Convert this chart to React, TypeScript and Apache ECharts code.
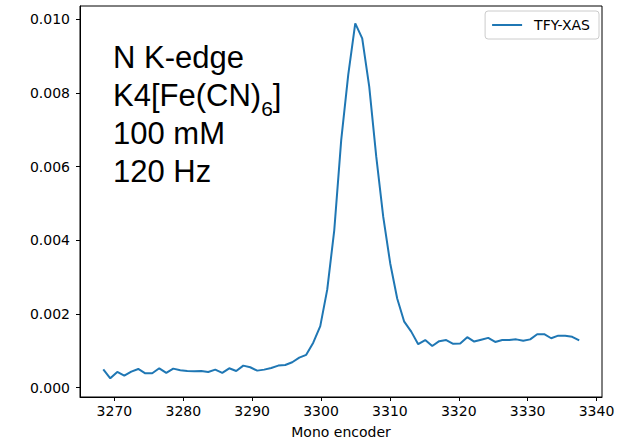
import React, { useEffect, useRef } from "react";
import * as echarts from "echarts";

const xValues = [
  3268.38, 3269.4, 3270.41, 3271.43, 3272.45, 3273.46, 3274.48, 3275.49, 3276.51, 3277.53,
  3278.54, 3279.56, 3280.58, 3281.59, 3282.61, 3283.62, 3284.64, 3285.66, 3286.67, 3287.69,
  3288.71, 3289.72, 3290.74, 3291.75, 3292.77, 3293.79, 3294.8, 3295.82, 3296.84, 3297.85,
  3298.87, 3299.89, 3300.9, 3301.92, 3302.93, 3303.95, 3304.97, 3305.98, 3307.0, 3308.02,
  3309.03, 3310.05, 3311.06, 3312.08, 3313.1, 3314.11, 3315.13, 3316.15, 3317.16, 3318.18,
  3319.19, 3320.21, 3321.23, 3322.24, 3323.26, 3324.28, 3325.29, 3326.31, 3327.32, 3328.34,
  3329.36, 3330.37, 3331.39, 3332.41, 3333.42, 3334.44, 3335.45, 3336.47, 3337.49,
];

const yValues = [
  0.000497, 0.000253, 0.000425, 0.000325, 0.000434, 0.000506, 0.000389, 0.000389, 0.000524, 0.000398,
  0.000515, 0.00047, 0.000452, 0.000443, 0.000452, 0.000425, 0.000488, 0.000398, 0.000524, 0.000452,
  0.000597, 0.000552, 0.000461, 0.000488, 0.000534, 0.000597, 0.000615, 0.000688, 0.000814, 0.00089,
  0.00122, 0.00167, 0.00266, 0.00427, 0.00672, 0.00849, 0.00989, 0.00948, 0.00817, 0.00627,
  0.00464, 0.00337, 0.00242, 0.00179, 0.00152, 0.00118, 0.00129, 0.00113, 0.00126, 0.00129,
  0.00119, 0.0012, 0.00137, 0.00125, 0.0013, 0.00135, 0.00124, 0.00129, 0.00129, 0.00131,
  0.00127, 0.00131, 0.00145, 0.00145, 0.00134, 0.00141, 0.00141, 0.00138, 0.00128,
];

const xTicks = [3270, 3280, 3290, 3300, 3310, 3320, 3330, 3340];
const yTicks = [0, 0.002, 0.004, 0.006, 0.008, 0.01];

const seriesName = "TFY-XAS";
const xAxisTitle = "Mono encoder";
const line1 = "N K-edge";
const line2Main = "K4[Fe(CN)";
const line2Sub = "6";
const line2Tail = "]";
const line3 = "100 mM";
const line4 = "120 Hz";

const ANNO_FONT = "Liberation Sans";

function measure(text: string, font: string): number {
  const c = document.createElement("canvas").getContext("2d");
  if (!c) return text.length * 16;
  c.font = font;
  return c.measureText(text).width;
}

export default function App() {
  const ref = useRef<HTMLDivElement>(null);

  useEffect(() => {
    if (!ref.current) return;
    const chart = echarts.init(ref.current, undefined, { renderer: "svg" });

    const data = xValues.map((x, i) => [x, yValues[i]]);
    const ax = 113;
    const mainSize = 31;
    const subSize = 21;
    const mainW = measure(line2Main, `${mainSize}px "${ANNO_FONT}"`);
    const subW = measure(line2Sub, `${subSize}px "${ANNO_FONT}"`);

    const textStyleBase = {
      fontFamily: ANNO_FONT,
      fontSize: mainSize,
      fill: "#000",
      align: "left",
      verticalAlign: "middle",
    };

    chart.setOption({
      animation: false,
      backgroundColor: "#ffffff",
      grid: {
        left: 80,
        right: 24,
        top: 6,
        bottom: 43,
        show: true,
        containLabel: false,
        outerBoundsMode: "none",
        borderColor: "#000",
        borderWidth: 1,
        backgroundColor: "transparent",
      },
      legend: {
        show: true,
        top: 11,
        right: 27,
        orient: "vertical",
        padding: [7, 9, 7, 6],
        itemWidth: 30,
        itemHeight: 14,
        itemStyle: { opacity: 0 },
        borderColor: "#cccccc",
        borderWidth: 1,
        borderRadius: 3,
        backgroundColor: "rgba(255,255,255,0.8)",
        textStyle: {
          fontFamily: "DejaVu Sans",
          fontSize: 14,
          color: "#000",
          padding: [0, 0, 0, 7],
        },
        data: [seriesName],
      },
      xAxis: {
        type: "value",
        min: 3265,
        max: 3340.8,
        name: xAxisTitle,
        nameLocation: "middle",
        nameGap: 28,
        nameTextStyle: { fontFamily: "DejaVu Sans", fontSize: 14, color: "#000" },
        axisLine: { show: true, onZero: false, lineStyle: { color: "#000", width: 1 } },
        axisTick: {
          show: true,
          inside: false,
          length: 4,
          customValues: xTicks,
          lineStyle: { color: "#000", width: 1 },
        },
        axisLabel: {
          show: true,
          margin: 7,
          customValues: xTicks,
          fontFamily: "DejaVu Sans",
          fontSize: 14,
          color: "#000",
          formatter: (v: number) => String(Math.round(v)),
        },
        splitLine: { show: false },
      },
      yAxis: {
        type: "value",
        min: -0.000255,
        max: 0.01036,
        axisLine: { show: true, onZero: false, lineStyle: { color: "#000", width: 1 } },
        axisTick: {
          show: true,
          inside: false,
          length: 4,
          customValues: yTicks,
          lineStyle: { color: "#000", width: 1 },
        },
        axisLabel: {
          show: true,
          margin: 10,
          customValues: yTicks,
          fontFamily: "DejaVu Sans",
          fontSize: 14,
          color: "#000",
          formatter: (v: number) => v.toFixed(3),
        },
        splitLine: { show: false },
      },
      series: [
        {
          name: seriesName,
          type: "line",
          data,
          symbol: "none",
          showSymbol: false,
          lineStyle: { color: "#1f77b4", width: 2 },
          itemStyle: { color: "#1f77b4" },
        },
      ],
      graphic: [
        { type: "text", x: ax, y: 57, style: { ...textStyleBase, text: line1 } },
        { type: "text", x: ax, y: 95, style: { ...textStyleBase, text: line2Main } },
        {
          type: "text",
          x: ax + mainW,
          y: 108.5,
          style: { ...textStyleBase, fontSize: subSize, text: line2Sub },
        },
        {
          type: "text",
          x: ax + mainW + subW,
          y: 95,
          style: { ...textStyleBase, text: line2Tail },
        },
        { type: "text", x: ax, y: 133, style: { ...textStyleBase, text: line3 } },
        { type: "text", x: ax, y: 171.5, style: { ...textStyleBase, text: line4 } },
      ],
    });

    return () => {
      chart.dispose();
    };
  }, []);

  return (
    <div
      ref={ref}
      style={{ position: "fixed", left: 0, top: 0, width: 626, height: 440, background: "#fff" }}
    />
  );
}
